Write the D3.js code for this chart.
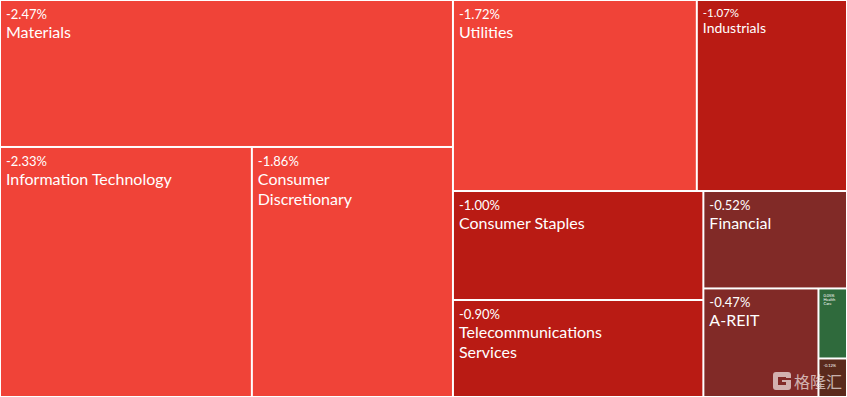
<!DOCTYPE html>
<html>
<head>
<meta charset="utf-8">
<script src="https://cdn.jsdelivr.net/npm/d3@7"></script>
<style>
body { margin: 0; background: #fff; }
svg { display: block; }
.tile text { font-family: Lato, "Noto Sans", sans-serif; fill: #fff; }
</style>
</head>
<body>
<svg id="themap" width="847" height="397"></svg>
<script>
// sector weights (area) and daily change
var sectors = ["Materials", "Information Technology", "Consumer Discretionary", "Utilities", "Industrials",
	"Consumer Staples", "Telecommunications Services", "Financial", "A-REIT", "Health Care", "Energy"]
var weights = [66.6, 63.0, 50.3, 46.6, 28.7, 27.3, 24.3, 14.0, 12.5, 2.0, 1.1]
var changes = [-2.47, -2.33, -1.86, -1.72, -1.07, -1.00, -0.90, -0.52, -0.47, 0.05, -0.12]

var width = 847, height = 397
var smallLabel = new Set(["Industrials"])
var tinyLabel = new Set(["Health Care", "Energy"])

var color = d3.scaleThreshold()
	.domain([-1.5, -0.8, -0.3, 0])
	.range(["#f04338", "#b91b14", "#812a27", "#5a2a1c", "#2f6a3c"])

// binary split like d3.treemapBinary, but direction alternates by level
function tileAlt(parent, x0, y0, x1, y1) {
	let nodes = parent.children, n = nodes.length, sums = new Array(n + 1)
	sums[0] = 0
	for (let i = 0; i < n; ++i) sums[i + 1] = sums[i] + nodes[i].value
	partition(0, n, parent.value, x0, y0, x1, y1, 0)

	function partition(i, j, value, x0, y0, x1, y1, level) {
		if (i >= j - 1) {
			let node = nodes[i]
			node.x0 = x0, node.y0 = y0, node.x1 = x1, node.y1 = y1
			return
		}
		let valueOffset = sums[i], valueTarget = value / 2 + valueOffset, k = i + 1, hi = j - 1
		while (k < hi) {
			let mid = k + hi >>> 1
			if (sums[mid] < valueTarget) k = mid + 1
			else hi = mid
		}
		if ((valueTarget - sums[k - 1]) < (sums[k] - valueTarget) && i + 1 < k) --k
		let valueLeft = sums[k] - valueOffset, valueRight = value - valueLeft
		if (level % 2 == 0) {
			let xk = (x0 * valueRight + x1 * valueLeft) / value
			partition(i, k, valueLeft, x0, y0, xk, y1, level + 1)
			partition(k, j, valueRight, xk, y0, x1, y1, level + 1)
		} else {
			let yk = (y0 * valueRight + y1 * valueLeft) / value
			partition(i, k, valueLeft, x0, y0, x1, yk, level + 1)
			partition(k, j, valueRight, x0, yk, x1, y1, level + 1)
		}
	}
}

var data = sectors.map((name, i) => ({ name: name, weight: weights[i], change: changes[i] }))

var root = d3.hierarchy({ children: data })
	.sum(d => d.weight || 0)
	.sort((a, b) => b.value - a.value)

d3.treemap()
	.size([width, height])
	.tile(tileAlt)
	.paddingInner(2)
	.paddingOuter(1)(root)

var svg = d3.select("#themap")

var tile = svg.selectAll(".tile")
	.data(root.leaves())
	.join("g")
	.classed("tile", true)
	.attr("transform", d => "translate(" + d.x0 + "," + d.y0 + ")")

tile.append("rect")
	.attr("width", d => d.x1 - d.x0)
	.attr("height", d => d.y1 - d.y0)
	.attr("fill", d => color(d.data.change))

function fmt(v) {
	return (v < 0 ? "-" : "") + Math.abs(v).toFixed(2) + "%"
}

tile.each(function(d) {
	let g = d3.select(this)
	let w = d.x1 - d.x0
	let name = d.data.name
	if (tinyLabel.has(name)) {
		// only room for a tiny label; the bottom one sits under the watermark
		let t = g.append("text").style("font-size", "4px")
		t.append("tspan").attr("x", 4).attr("y", 8).text(fmt(d.data.change))
		if (d.y1 - d.y0 > 50)
			name.split(" ").forEach((s, i) => t.append("tspan").attr("x", 4).attr("y", 12 + i * 4).text(s))
		return
	}
	let small = smallLabel.has(name)
	let ps = small ? 11.5 : 13, ns = small ? 14 : 16
	g.append("text")
		.attr("x", 5)
		.attr("y", small ? 16 : 18)
		.style("font-size", ps + "px")
		.text(fmt(d.data.change))

	let t = g.append("text")
		.attr("x", 5)
		.style("font-size", ns + "px")
	let top = small ? 32 : 37
	let tmp = t.append("tspan").attr("x", 5).attr("y", top).text(name)
	if (tmp.node().getComputedTextLength() > w * 0.75 && name.indexOf(" ") > 0) {
		tmp.remove()
		name.split(" ").forEach((s, i) => t.append("tspan").attr("x", 5).attr("y", top + i * 20).text(s))
	}
})

// watermark
var wm = svg.append("g")
	.attr("transform", "translate(773,372)")
	.attr("opacity", 0.72)
wm.append("path")
	.attr("d", "M3,0 H15 Q18,0 18,3 V6 H13 V5 H5 V13 H13 V10 H9 V8 H18 V15 Q18,18 15,18 H3 Q0,18 0,15 V3 Q0,0 3,0 Z")
	.attr("fill", "#f2e6e4")
wm.append("text")
	.attr("x", 21)
	.attr("y", 16)
	.style("font-family", "'Noto Sans CJK SC', sans-serif")
	.style("font-size", "16px")
	.style("fill", "#f2e6e4")
	.text("格隆汇")
</script>
</body>
</html>
